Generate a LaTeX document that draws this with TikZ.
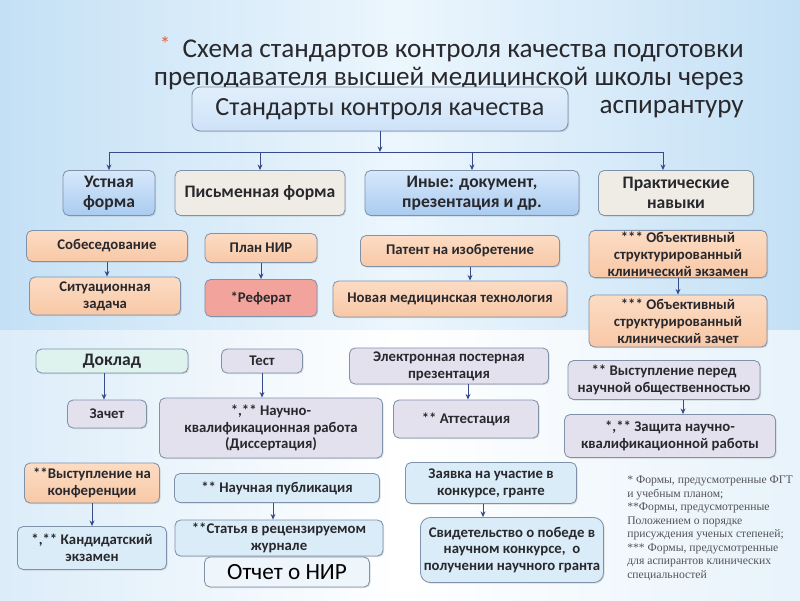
\documentclass[tikz,border=0pt]{standalone}
\usepackage{fontspec}
\setmainfont{Carlito}
\newfontfamily\notefont{Liberation Serif}
\usetikzlibrary{arrows.meta,shadows}

\definecolor{bgblue}{RGB}{196,224,245}
\definecolor{bglight}{RGB}{236,246,253}
\definecolor{boxline}{RGB}{128,145,170}
\definecolor{txt}{RGB}{40,40,45}
\definecolor{arrowblue}{RGB}{55,75,140}
\definecolor{startitle}{RGB}{226,98,60}
\definecolor{skyA}{RGB}{214,232,250}
\definecolor{skyB}{RGB}{170,203,240}
\definecolor{beige}{RGB}{238,236,228}
\definecolor{peachA}{RGB}{252,220,196}
\definecolor{peachB}{RGB}{248,200,166}
\definecolor{salmon}{RGB}{242,164,156}
\definecolor{mint}{RGB}{222,243,238}
\definecolor{lavender}{RGB}{228,225,238}
\definecolor{iceblue}{RGB}{218,236,247}
\definecolor{paleblue}{RGB}{238,245,251}

\begin{document}
\begin{tikzpicture}[x=0.025cm, y=-0.025cm, >={Stealth[length=4pt,width=3.5pt]},
  box/.style={draw=boxline, line width=0.6pt, rounded corners=4pt, align=center,
    inner sep=1pt, text=txt, font=\bfseries\fontsize{10.5}{12}\selectfont,
    drop shadow={shadow xshift=0.8pt, shadow yshift=-0.8pt, opacity=0.25}},
  skybox/.style={box, top color=skyA, bottom color=skyB},
  beigebox/.style={box, fill=beige},
  peachbox/.style={box, top color=peachA, bottom color=peachB},
  salmonbox/.style={box, fill=salmon},
  mintbox/.style={box, fill=mint},
  lavbox/.style={box, fill=lavender},
  icebox/.style={box, fill=iceblue},
  big/.style={font=\bfseries\fontsize{12.5}{14}\selectfont},
  titleline/.style={anchor=base east, inner sep=0, text=txt, font=\fontsize{19.3}{22}\selectfont},
  link/.style={->, draw=arrowblue, line width=0.6pt}]

  % background
  \useasboundingbox (0,0) rectangle (800,600);
  \shade[left color=bgblue, right color=bgblue, middle color=bglight] (0,0) rectangle (800,330);
  \shade[left color=bgblue!60, right color=bgblue!40, middle color=white] (0,330) rectangle (800,600);

  % title
  \node (t1) [titleline] at (744,57)
    {{\color{startitle}\raisebox{4pt}{\fontsize{15}{15}\selectfont*}}\ \ Схема стандартов контроля качества подготовки};
  \node (t2) [titleline] at (744,85) {преподавателя высшей медицинской школы через};
  \node (t3) [titleline] at (744,113) {аспирантуру};

  % top level
  \node (top) [skybox, top color=skyA!70!white, bottom color=skyA!80!skyB, rounded corners=6pt,
    minimum width=9.4cm, minimum height=1.1cm, font=\fontsize{18.6}{20}\selectfont] at (380,109)
    {Стандарты контроля качества};

  % first row
  \node (ustn) [skybox, big, minimum width=2.3cm, minimum height=1.125cm] at (109,193)
    {Устная\\форма};
  \node (pism) [beigebox, big, minimum width=4.25cm, minimum height=1.125cm] at (260,193)
    {Письменная форма};
  \node (inye) [skybox, big, minimum width=5.35cm, minimum height=1.125cm] at (472,193)
    {Иные: документ,\\презентация и др.};
  \node (prakt) [beigebox, big, minimum width=3.875cm, minimum height=1.125cm] at (676,193)
    {Практические\\навыки};

  \coordinate (bar) at (380,152);
  \draw[link] (top.south) -- (top.south |- bar);
  \draw[arrowblue, line width=0.6pt] (ustn.north |- bar) -- ([xshift=-0.325cm]prakt.north |- bar);
  \foreach \n in {ustn, pism, inye}
    \draw[link] (\n.north |- bar) -- (\n.north);
  \draw[link] ([xshift=-0.325cm]prakt.north |- bar) -- ([xshift=-0.325cm]prakt.north);

  % upper forms
  \node (sobes) [peachbox, minimum width=4.025cm, minimum height=0.775cm] at (107,246)
    {Собеседование};
  \node (sit) [peachbox, minimum width=3.775cm, minimum height=0.95cm] at (105,296)
    {Ситуационная\\задача};
  \node (plan) [peachbox, minimum width=2.8cm, minimum height=0.725cm] at (261,248)
    {План НИР};
  \node (ref) [salmonbox, minimum width=2.8cm, minimum height=0.925cm] at (261,298)
    {*Реферат};
  \node (patent) [peachbox, minimum width=4.975cm, minimum height=0.775cm] at (460,251)
    {Патент на изобретение};
  \node (nov) [peachbox, minimum width=5.85cm, minimum height=0.9cm] at (450,299)
    {Новая медицинская технология};
  \node (oske) [peachbox, minimum width=4.45cm, minimum height=1.175cm] at (678,254)
    {*** Объективный\\структурированный\\клинический экзамен};
  \node (oskz) [peachbox, minimum width=4.45cm, minimum height=1.3cm] at (678,321)
    {*** Объективный\\структурированный\\клинический зачет};

  % lower forms
  \node (dokl) [mintbox, big, minimum width=3.8cm, minimum height=0.6cm] at (112,361)
    {Доклад};
  \node (zach) [lavbox, minimum width=1.975cm, minimum height=0.7cm] at (107,414)
    {Зачет};
  \node (test) [lavbox, minimum width=2.025cm, minimum height=0.6cm] at (262,361)
    {Тест};
  \node (nkr) [lavbox, minimum width=5.575cm, minimum height=1.5cm] at (271,428)
    {*,** Научно-\\квалификационная работа\\(Диссертация)};
  \node (poster) [lavbox, minimum width=4.975cm, minimum height=0.9cm] at (449,366)
    {Электронная постерная\\презентация};
  \node (att) [lavbox, minimum width=3.625cm, minimum height=0.95cm] at (466,419)
    {** Аттестация};
  \node (vyst) [lavbox, minimum width=4.8cm, minimum height=0.975cm] at (664,380)
    {** Выступление перед\\научной общественностью};
  \node (zash) [lavbox, minimum width=5.275cm, minimum height=1.075cm] at (670,436)
    {*,** Защита научно-\\квалификационной работы};

  \node (konf) [peachbox, minimum width=3.375cm, minimum height=1.0cm] at (92,483)
    {**Выступление на\\конференции};
  \node (kand) [icebox, minimum width=3.725cm, minimum height=1.075cm] at (92,548)
    {*,** Кандидатский\\экзамен};
  \node (publ) [icebox, minimum width=5.125cm, minimum height=0.725cm] at (277,488)
    {** Научная публикация};
  \node (stat) [icebox, minimum width=5.2cm, minimum height=0.9cm] at (279,538)
    {**Статья в рецензируемом\\журнале};
  \node (otchet) [box, fill=paleblue, minimum width=4.125cm, minimum height=0.75cm,
    font=\fontsize{16.5}{18}\selectfont, text=black] at (287,572)
    {Отчет о НИР};
  \node (zayav) [icebox, minimum width=4.275cm, minimum height=1.025cm] at (491,483)
    {Заявка на участие в\\конкурсе, гранте};
  \node (svid) [icebox, rounded corners=7pt, minimum width=4.575cm, minimum height=1.625cm] at (512,550)
    {Свидетельство о победе в\\научном конкурсе,\ \ о\\получении научного гранта};

  % links between forms
  \foreach \a/\b/\s in {sobes/sit/0, plan/ref/0, patent/nov/0.25, oske/oskz/0,
      dokl/zach/-0.2, test/nkr/0, poster/att/0.475, vyst/zash/0.475,
      konf/kand/0, publ/stat/-0.1, zayav/svid/-0.2}
    \draw[link] ([xshift=\s cm]\a.south) -- ([xshift=\s cm]\a.south |- \b.north);

  % notes
  \node (note) [anchor=north west, inner sep=0, align=left, text=txt!80,
    font=\notefont\fontsize{8.3}{9.6}\selectfont] at (627,476)
    {* Формы, предусмотренные ФГТ\\и учебным планом;\\**Формы, предусмотренные\\Положением о порядке\\присуждения ученых степеней;\\*** Формы, предусмотренные\\для аспирантов клинических\\специальностей};
\end{tikzpicture}
\end{document}
